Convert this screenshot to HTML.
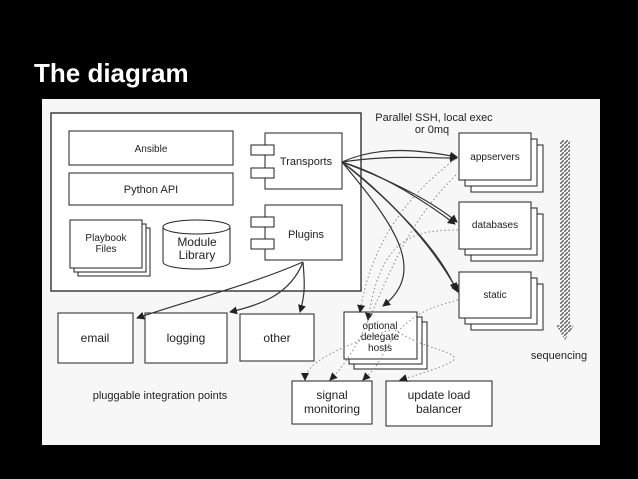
<!DOCTYPE html>
<html><head><style>
body{margin:0;background:#000;width:638px;height:479px;overflow:hidden;position:relative;font-family:"Liberation Sans",sans-serif}
.t{position:absolute;left:34px;top:58px;color:#fff;font-weight:bold;font-size:26px}
svg{position:absolute;left:0;top:0}
text{font-family:"Liberation Sans",sans-serif;fill:#222}
</style></head><body>
<div class="t">The diagram</div>
<svg width="638" height="479" viewBox="0 0 638 479">
<defs>
<marker id="a" markerWidth="8" markerHeight="8" refX="7" refY="4" orient="auto" markerUnits="userSpaceOnUse"><path d="M0,0L8,4L0,8z" fill="#222"/></marker>
<pattern id="h" width="4" height="4" patternUnits="userSpaceOnUse"><path d="M0,4L4,0" stroke="#666" stroke-width="1.5"/></pattern>
</defs>
<rect x="42" y="99" width="558" height="346" fill="#f7f7f7"/>
<g fill="#fff" stroke="#222" stroke-width="1">
<rect x="51" y="113" width="310" height="178" fill="#fff" stroke-width="1.3"/>
<rect x="69" y="131" width="164" height="34"/>
<rect x="69" y="173" width="164" height="32"/>
<rect x="78" y="228" width="72" height="48"/>
<rect x="74" y="224" width="72" height="48"/>
<rect x="70" y="220" width="72" height="48"/>
<path d="M163,227 L163,262 A33.5,7 0 0 0 230,262 L230,227"/>
<ellipse cx="196.5" cy="227" rx="33.5" ry="7"/>
<rect x="265" y="133" width="77" height="56"/>
<rect x="251" y="145" width="23" height="10"/><rect x="251" y="168" width="23" height="10"/>
<rect x="265" y="205" width="77" height="55"/>
<rect x="251" y="217" width="23" height="10"/><rect x="251" y="239" width="23" height="10"/>
<rect x="471" y="145" width="72" height="47"/><rect x="465" y="139" width="72" height="47"/><rect x="459" y="133" width="72" height="47"/>
<rect x="471" y="214" width="72" height="47"/><rect x="465" y="208" width="72" height="47"/><rect x="459" y="202" width="72" height="47"/>
<rect x="471" y="284" width="72" height="46"/><rect x="465" y="278" width="72" height="46"/><rect x="459" y="272" width="72" height="46"/>
<rect x="354" y="322" width="73" height="47"/><rect x="349" y="317" width="73" height="47"/><rect x="344" y="312" width="73" height="47"/>
<rect x="58" y="313" width="75" height="50"/>
<rect x="145" y="313" width="82" height="50"/>
<rect x="240" y="314" width="74" height="47"/>
<rect x="292" y="381" width="80" height="43"/>
<rect x="386" y="381" width="106" height="45"/>
</g>
<rect x="560" y="140" width="10" height="185" fill="url(#h)"/>
<path d="M556,325L574,325L565,340z" fill="url(#h)"/>
<g fill="none" stroke="#333" stroke-width="1.2" marker-end="url(#a)">
<path d="M342,162 C380,145 420,150 457,157"/>
<path d="M342,162 C390,155 420,158 457,158"/>
<path d="M342,162 C390,180 430,200 457,222"/>
<path d="M342,162 C385,175 430,205 455,224"/>
<path d="M342,162 C380,190 430,240 458,292"/>
<path d="M342,162 C390,200 440,250 456,290"/>
<path d="M342,162 C390,220 430,270 383,306"/>
<path d="M303,262 C250,285 190,300 137,318"/>
<path d="M303,262 C290,295 260,305 230,312"/>
<path d="M303,262 C305,285 305,295 300,312"/>
</g>
<g fill="none" stroke="#888" stroke-width="1" stroke-dasharray="1.5,2.5" marker-end="url(#a)">
<path d="M458,157 C400,200 370,250 360,312"/>
<path d="M458,230 C410,230 380,240 368,320"/>
<path d="M458,300 C420,310 400,320 380,360 C370,375 365,378 363,380"/>
<path d="M390,330 C330,350 305,365 305,380"/>
<path d="M395,330 C440,360 500,350 400,380"/>
<path d="M456,175 C380,250 380,330 330,380"/>
</g>
<g font-size="10" text-anchor="middle">
<text x="151" y="152">Ansible</text>
<text x="151" y="193" font-size="11">Python API</text>
<text x="106" y="241">Playbook</text><text x="106" y="252">Files</text>
<text x="197" y="246" font-size="12">Module</text><text x="197" y="259" font-size="12">Library</text>
<text x="306" y="165" font-size="11">Transports</text>
<text x="306" y="238" font-size="11">Plugins</text>
<text x="495" y="160">appservers</text>
<text x="495" y="228">databases</text>
<text x="495" y="298">static</text>
<text x="380" y="329">optional</text><text x="380" y="340">delegate</text><text x="380" y="351">hosts</text>
<text x="95" y="342" font-size="12">email</text>
<text x="186" y="342" font-size="12">logging</text>
<text x="277" y="342" font-size="12">other</text>
<text x="332" y="399" font-size="12">signal</text><text x="332" y="413" font-size="12">monitoring</text>
<text x="439" y="399" font-size="12">update load</text><text x="439" y="413" font-size="12">balancer</text>
<text x="434" y="121" font-size="11">Parallel SSH, local exec</text>
<text x="432" y="133" font-size="11">or 0mq</text>
<text x="559" y="359" font-size="11">sequencing</text>
<text x="160" y="399" font-size="11">pluggable integration points</text>
</g>
</svg>
</body></html>
